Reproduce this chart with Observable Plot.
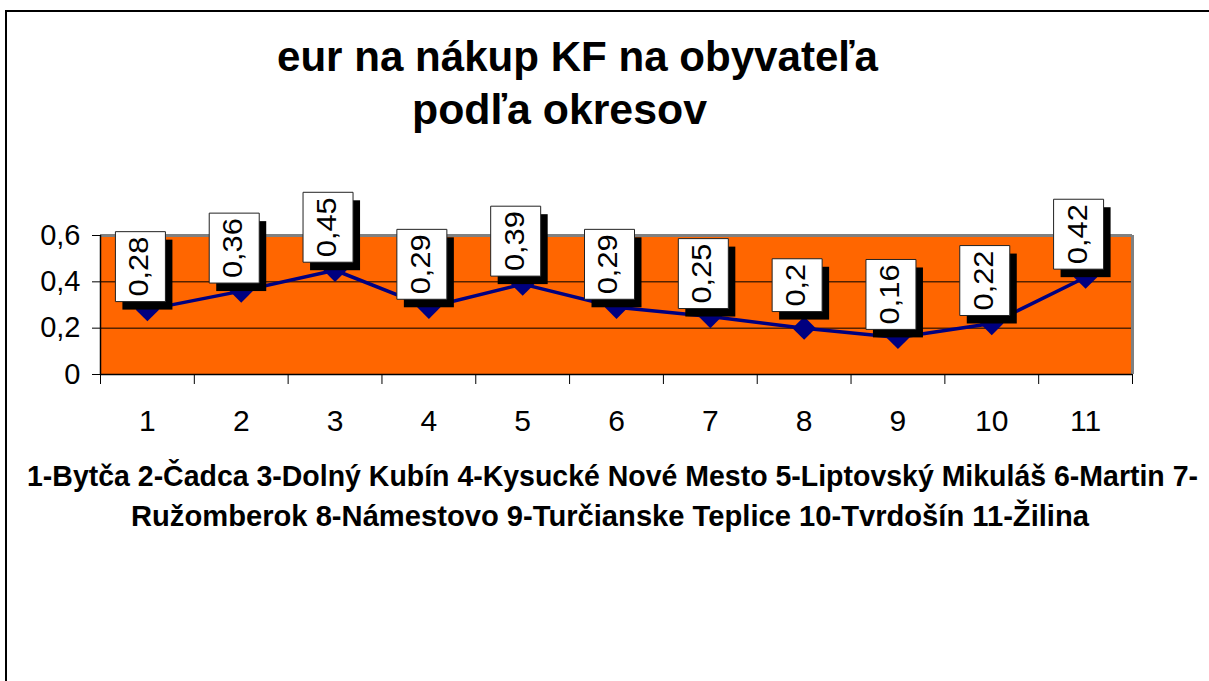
<!DOCTYPE html>
<html>
<head>
<meta charset="utf-8">
<script src="https://cdn.jsdelivr.net/npm/d3@7"></script>
<script src="https://cdn.jsdelivr.net/npm/@observablehq/plot@0.6"></script>
<style>
  html, body { margin: 0; padding: 0; background: #fff; }
  #page { position: relative; width: 1209px; height: 681px; overflow: hidden;
          font-family: "Liberation Sans", Arial, sans-serif; color: #000; }
  #frame { position: absolute; left: 5px; top: 10px; width: 1400px; height: 900px;
           border-left: 2px solid #000; border-top: 2px solid #000; }
  #chart { position: absolute; left: 0; top: 150px; width: 1209px; height: 300px; }
</style>
</head>
<body>
<div id="page">
  <div id="frame"></div>
  <div id="chart"></div>
</div>
<script>
// ---------- data ----------
const titleLines = ["eur na nákup KF na obyvateľa", "podľa okresov"];
const cisla = [1, 2, 3, 4, 5, 6, 7, 8, 9, 10, 11];
const okresy = ["Bytča", "Čadca", "Dolný Kubín", "Kysucké Nové Mesto", "Liptovský Mikuláš",
                "Martin", "Ružomberok", "Námestovo", "Turčianske Teplice", "Tvrdošín", "Žilina"];
const hodnoty = [0.28, 0.36, 0.45, 0.29, 0.39, 0.29, 0.25, 0.2, 0.16, 0.22, 0.42];
const yTicks = [0, 0.2, 0.4, 0.6];

const comma = d => String(d).replace(".", ",");
const data = cisla.map((c, i) => ({c, v: hodnoty[i], label: comma(hodnoty[i])}));
const hranice = cisla.map(c => c - 0.5).concat([cisla[cisla.length - 1] + 0.5]);

// caption text built from the district names, wrapped after "7-"
const captionFull = cisla.map((c, i) => `${c}-${okresy[i]}`).join(" ");
const cut = captionFull.indexOf("7-") + 2;
const captionLines = [captionFull.slice(0, cut), captionFull.slice(cut)];

// ---------- text lines (title / caption) ----------
const page = document.getElementById("page");
function placeLine(text, x0, x1, baseline, size) {
  const el = document.createElement("div");
  el.textContent = text;
  Object.assign(el.style, {
    position: "absolute", left: x0 + "px", top: (baseline - 0.8465 * size) + "px",
    fontSize: size + "px", lineHeight: size + "px", fontWeight: "bold",
    whiteSpace: "nowrap", transformOrigin: "0 0"
  });
  page.appendChild(el);
  const w = el.getBoundingClientRect().width;
  el.style.transform = `scaleX(${(x1 - x0) / w})`;
}
placeLine(titleLines[0], 277, 878, 72, 42);
placeLine(titleLines[1], 412, 707, 125, 42);
placeLine(captionLines[0], 27, 1198, 487, 29);
placeLine(captionLines[1], 131, 1089, 527, 29);

// ---------- chart ----------
const plot = Plot.plot({
  width: 1209, height: 300,
  marginLeft: 100, marginRight: 77, marginTop: 85, marginBottom: 76,
  style: {fontFamily: "'Liberation Sans', Arial, sans-serif", fontSize: "29px",
          background: "transparent", overflow: "visible", color: "#000"},
  x: {domain: [0.5, 11.5], axis: null},
  y: {domain: [0, 0.6], axis: null},
  marks: [
    Plot.frame({fill: "#FF6600", stroke: "none"}),
    Plot.ruleY([0.2, 0.4], {stroke: "#000", strokeWidth: 1}),
    Plot.ruleY([0.6], {stroke: "#808080", strokeWidth: 3}),
    Plot.ruleX([11.5], {stroke: "#808080", strokeWidth: 3}),
    Plot.ruleX([0.5], {stroke: "#000", strokeWidth: 1.5}),
    Plot.ruleY([0], {stroke: "#000", strokeWidth: 1.5}),
    Plot.axisY({ticks: yTicks, tickSize: 8, tickPadding: 12, tickFormat: comma, label: null, fontSize: 29}),
    Plot.axisX({ticks: hranice, tickSize: 10, tickFormat: () => "", label: null}),
    Plot.axisX({ticks: cisla, tickSize: 0, tickPadding: 35, tickFormat: d => String(d), label: null, fontSize: 30}),
    Plot.line(data, {x: "c", y: "v", stroke: "#000080", strokeWidth: 3.5}),
    Plot.dot(data, {x: "c", y: "v", symbol: d3.symbolDiamond2, r: 10.5, fill: "#000080", stroke: "none"}),
    Plot.text(data, {x: "c", y: "v", text: "label", rotate: -90, dx: -8, dy: -43,
                     fontSize: 28, fill: "#000"})
  ]
});
document.getElementById("chart").appendChild(plot);

// ---------- boxed data labels with shadow ----------
const STRETCH = 1.1;
d3.select(plot).selectAll('g[aria-label="text"] text').each(function () {
  const t = this;
  const tr = t.getAttribute("transform") || "";
  t.setAttribute("transform", tr + ` scale(${STRETCH},1)`);
  const b = t.getBBox();
  const padX = 5 / STRETCH;
  const x = b.x - padX, w = b.width + 2 * padX;
  const y = -24, h = 50;
  const parent = t.parentNode;
  const ns = "http://www.w3.org/2000/svg";
  const shadow = document.createElementNS(ns, "rect");
  shadow.setAttribute("transform", t.getAttribute("transform"));
  shadow.setAttribute("x", x - 8 / STRETCH);
  shadow.setAttribute("y", y + 7);
  shadow.setAttribute("width", w);
  shadow.setAttribute("height", h);
  shadow.setAttribute("fill", "#000");
  const box = document.createElementNS(ns, "rect");
  box.setAttribute("transform", t.getAttribute("transform"));
  box.setAttribute("x", x);
  box.setAttribute("y", y);
  box.setAttribute("width", w);
  box.setAttribute("height", h);
  box.setAttribute("fill", "#fff");
  box.setAttribute("stroke", "#222");
  box.setAttribute("stroke-width", 1);
  box.setAttribute("vector-effect", "non-scaling-stroke");
  parent.insertBefore(shadow, t);
  parent.insertBefore(box, t);
});
</script>
</body>
</html>
